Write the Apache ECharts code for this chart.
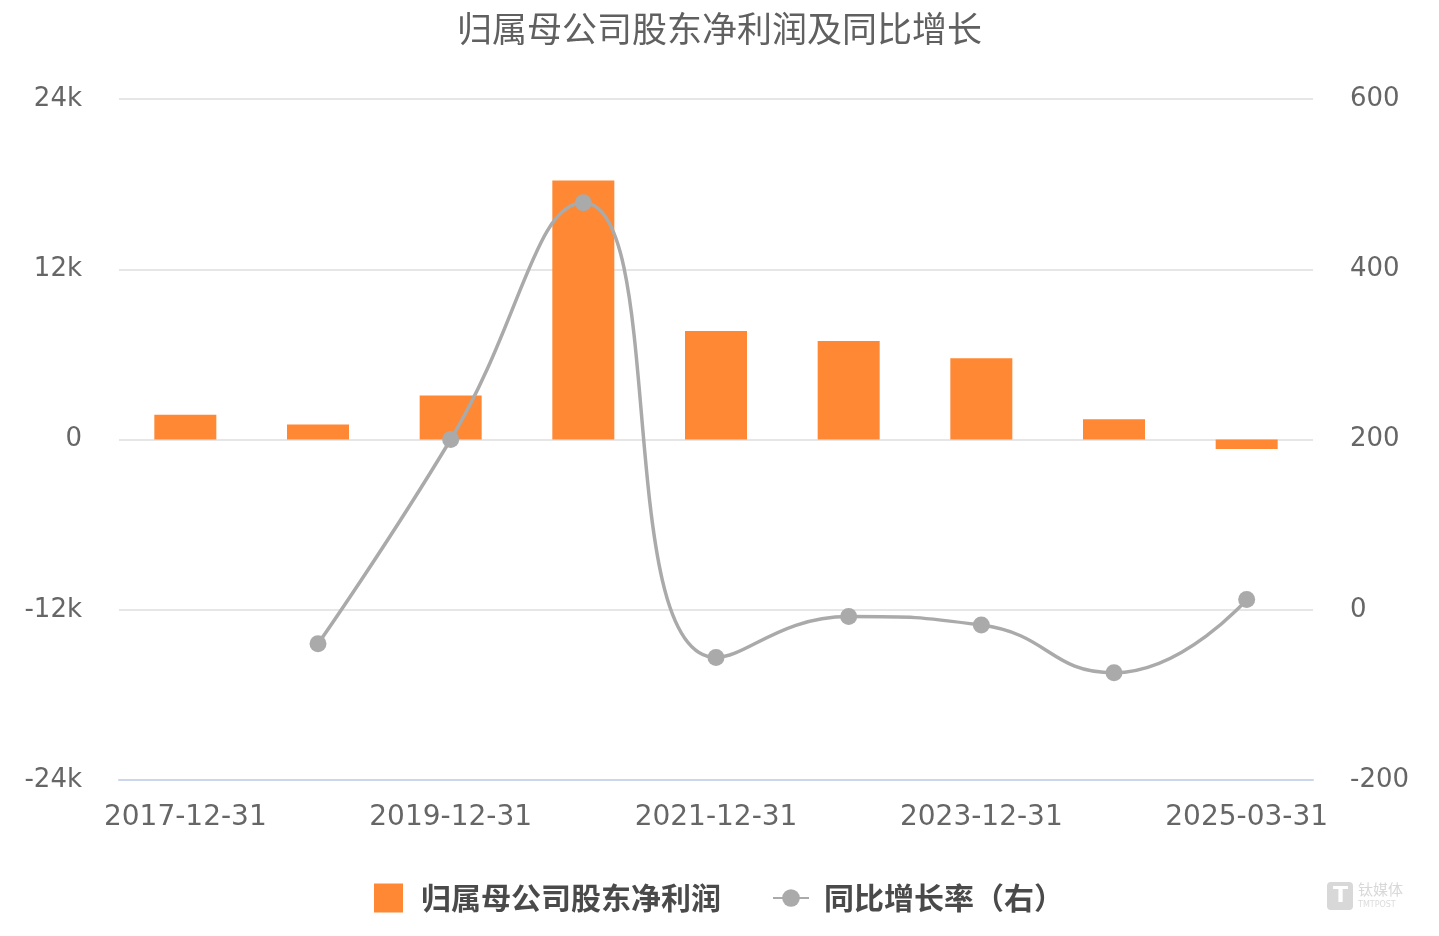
<!DOCTYPE html>
<html>
<head>
<meta charset="utf-8">
<script src="https://cdn.jsdelivr.net/npm/echarts@6/dist/echarts.min.js"></script>
<style>
html,body{margin:0;padding:0;background:#fff;}
#chart{width:1439px;height:936px;}
</style>
</head>
<body>
<div id="chart"></div>
<script>
const titleText = '归属母公司股东净利润及同比增长';
const categories = ['2017-12-31','2018-12-31','2019-12-31','2020-12-31','2021-12-31','2022-12-31','2023-12-31','2024-12-31','2025-03-31'];
const netProfit = [1750, 1050, 3100, 18250, 7650, 6950, 5720, 1430, -670];
const yoyGrowth = [null, -40, 200, 478, -56, -8, -18, -74, 12];
const seriesNames = ['归属母公司股东净利润', '同比增长率（右）'];
const leftTicks = { min: -24000, max: 24000, interval: 12000 };
const rightTicks = { min: -200, max: 600, interval: 200 };

const fontCJK = '"Noto Sans CJK SC", "Noto Sans", sans-serif';
const fontNum = '"DejaVu Sans", "Noto Sans", sans-serif';

const legendText = { fontFamily: fontCJK, fontSize: 30, fontWeight: 'bold', color: '#4a4a4a' };

const chart = echarts.init(document.getElementById('chart'), null, {renderer: 'canvas'});
chart.setOption({
  backgroundColor: '#fff',
  animation: false,
  title: {
    text: titleText,
    left: 'center',
    top: 6,
    textStyle: { fontFamily: fontCJK, fontSize: 35, fontWeight: 'normal', color: '#606060' }
  },
  legend: [
    {
      left: 369, top: 878,
      itemWidth: 29, itemHeight: 29,
      textStyle: Object.assign({ padding: [0, 0, 0, 13] }, legendText),
      data: [{ name: seriesNames[0], icon: 'rect' }]
    },
    {
      left: 767, top: 878,
      itemWidth: 36, itemHeight: 22,
      textStyle: Object.assign({ padding: [0, 0, 0, 10] }, legendText),
      data: [{ name: seriesNames[1] }]
    }
  ],
  grid: { left: 119, right: 126, top: 99, bottom: 156, containLabel: false },
  xAxis: {
    type: 'category',
    data: categories,
    boundaryGap: true,
    axisLine: { onZero: false, lineStyle: { color: '#ccd6eb', width: 2 } },
    axisTick: { alignWithLabel: true, interval: 1, length: 9, lineStyle: { color: '#ccd6eb', width: 2 } },
    axisLabel: { interval: 1, margin: 24, fontFamily: fontNum, fontSize: 28, color: '#666' }
  },
  yAxis: [
    {
      type: 'value',
      min: leftTicks.min, max: leftTicks.max, interval: leftTicks.interval,
      axisLine: { show: false },
      axisTick: { show: false },
      splitLine: { lineStyle: { color: '#e6e6e6', width: 2 } },
      axisLabel: { margin: 37, padding: [7, 0, 0, 0], fontFamily: fontNum, fontSize: 26, color: '#666',
        formatter: v => (v === 0 ? '0' : (v / 1000) + 'k') }
    },
    {
      type: 'value',
      min: rightTicks.min, max: rightTicks.max, interval: rightTicks.interval,
      axisLine: { show: false },
      axisTick: { show: false },
      splitLine: { show: false },
      axisLabel: { margin: 37, padding: [7, 0, 0, 0], fontFamily: fontNum, fontSize: 26, color: '#666' }
    }
  ],
  series: [
    {
      name: seriesNames[0],
      type: 'bar',
      yAxisIndex: 0,
      data: netProfit,
      barWidth: 62,
      itemStyle: { color: '#fe8833' }
    },
    {
      name: seriesNames[1],
      type: 'line',
      yAxisIndex: 1,
      data: yoyGrowth,
      smooth: 0.5,
      connectNulls: false,
      symbol: 'circle',
      symbolSize: 17,
      lineStyle: { color: '#aaaaaa', width: 3.5 },
      itemStyle: { color: '#aaaaaa' }
    }
  ],
  graphic: [
    {
      type: 'group', right: 36, bottom: 26,
      children: [
        { type: 'rect', shape: { x: 0, y: 0, width: 26, height: 28, r: 4 }, style: { fill: '#d8d8d8' } },
        { type: 'text', x: 6, y: 3, style: { text: 'T', fill: '#fff', font: 'bold 22px "DejaVu Sans"' } },
        { type: 'text', x: 31, y: 0, style: { text: '钛媒体', fill: '#d8d8d8', font: '15px "Noto Sans CJK SC"' } },
        { type: 'text', x: 31, y: 19, style: { text: 'TMTPOST', fill: '#dcdcdc', font: '8px "DejaVu Sans"' } }
      ]
    }
  ]
});
</script>
</body>
</html>
